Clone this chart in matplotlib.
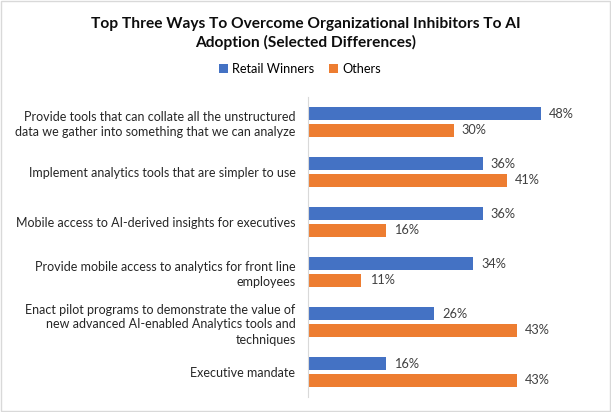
import matplotlib
matplotlib.use("Agg")
import matplotlib.pyplot as plt
import numpy as np
from matplotlib.patches import Rectangle

plt.rcParams['font.family'] = ['Lato', 'DejaVu Sans']

categories = [
    "Provide tools that can collate all the unstructured\ndata we gather into something that we can analyze",
    "Implement analytics tools that are simpler to use",
    "Mobile access to AI-derived insights for executives",
    "Provide mobile access to analytics for front line\nemployees",
    "Enact pilot programs to demonstrate the value of\nnew advanced AI-enabled Analytics tools and\ntechniques",
    "Executive mandate",
]
retail_winners = [48, 36, 36, 34, 26, 16]
others = [30, 41, 16, 11, 43, 43]

BLUE = "#4472C4"
ORANGE = "#ED7D31"

W, H = 611, 412
fig = plt.figure(figsize=(W / 100, H / 100), dpi=100)
ax = fig.add_axes([308 / W, 1 - 397 / H, 291 / W, 300 / H])

y = np.arange(len(categories))
bh = 0.26
gap = 0.34
b1 = ax.barh(y - gap / 2, retail_winners, height=bh, color=BLUE, label="Retail Winners")
b2 = ax.barh(y + gap / 2, others, height=bh, color=ORANGE, label="Others")

for bars, vals in ((b1, retail_winners), (b2, others)):
    for bar, v in zip(bars, vals):
        ax.annotate(f"{v}%", (bar.get_width(), bar.get_y() + bar.get_height() / 2),
                    xytext=(6, 0), textcoords="offset points",
                    va="center", ha="left", fontsize=9.2, color="#404040")

ax.set_xlim(0, 60)
ax.set_ylim(len(categories) - 0.5, -0.5)
ax.set_yticks(y)
ax.set_yticklabels(categories, fontsize=9.0, color="#262626", linespacing=1.3)
ax.tick_params(axis="y", length=0, pad=9)
ax.set_xticks([])
for s in ("top", "right", "bottom"):
    ax.spines[s].set_visible(False)
ax.spines["left"].set_color("#d9d9d9")

fig.text(0.5, 1 - 17 / H, "Top Three Ways To Overcome Organizational Inhibitors To AI\nAdoption (Selected Differences)",
         ha="center", va="top", fontsize=11.2, fontweight="bold", color="#0d0d0d", linespacing=1.3)
fig.legend(handles=[b1, b2], loc="center", bbox_to_anchor=(300 / W, 1 - 69 / H),
           ncol=2, frameon=False, fontsize=9.2, handlelength=0.7, handleheight=0.7,
           handletextpad=0.3, columnspacing=1.2)

fig.patches.append(Rectangle((0.002, 0.002), 0.996, 0.996, transform=fig.transFigure,
                             fill=False, edgecolor="#d9d9d9", lw=1))

fig.savefig("out.png", dpi=100)
